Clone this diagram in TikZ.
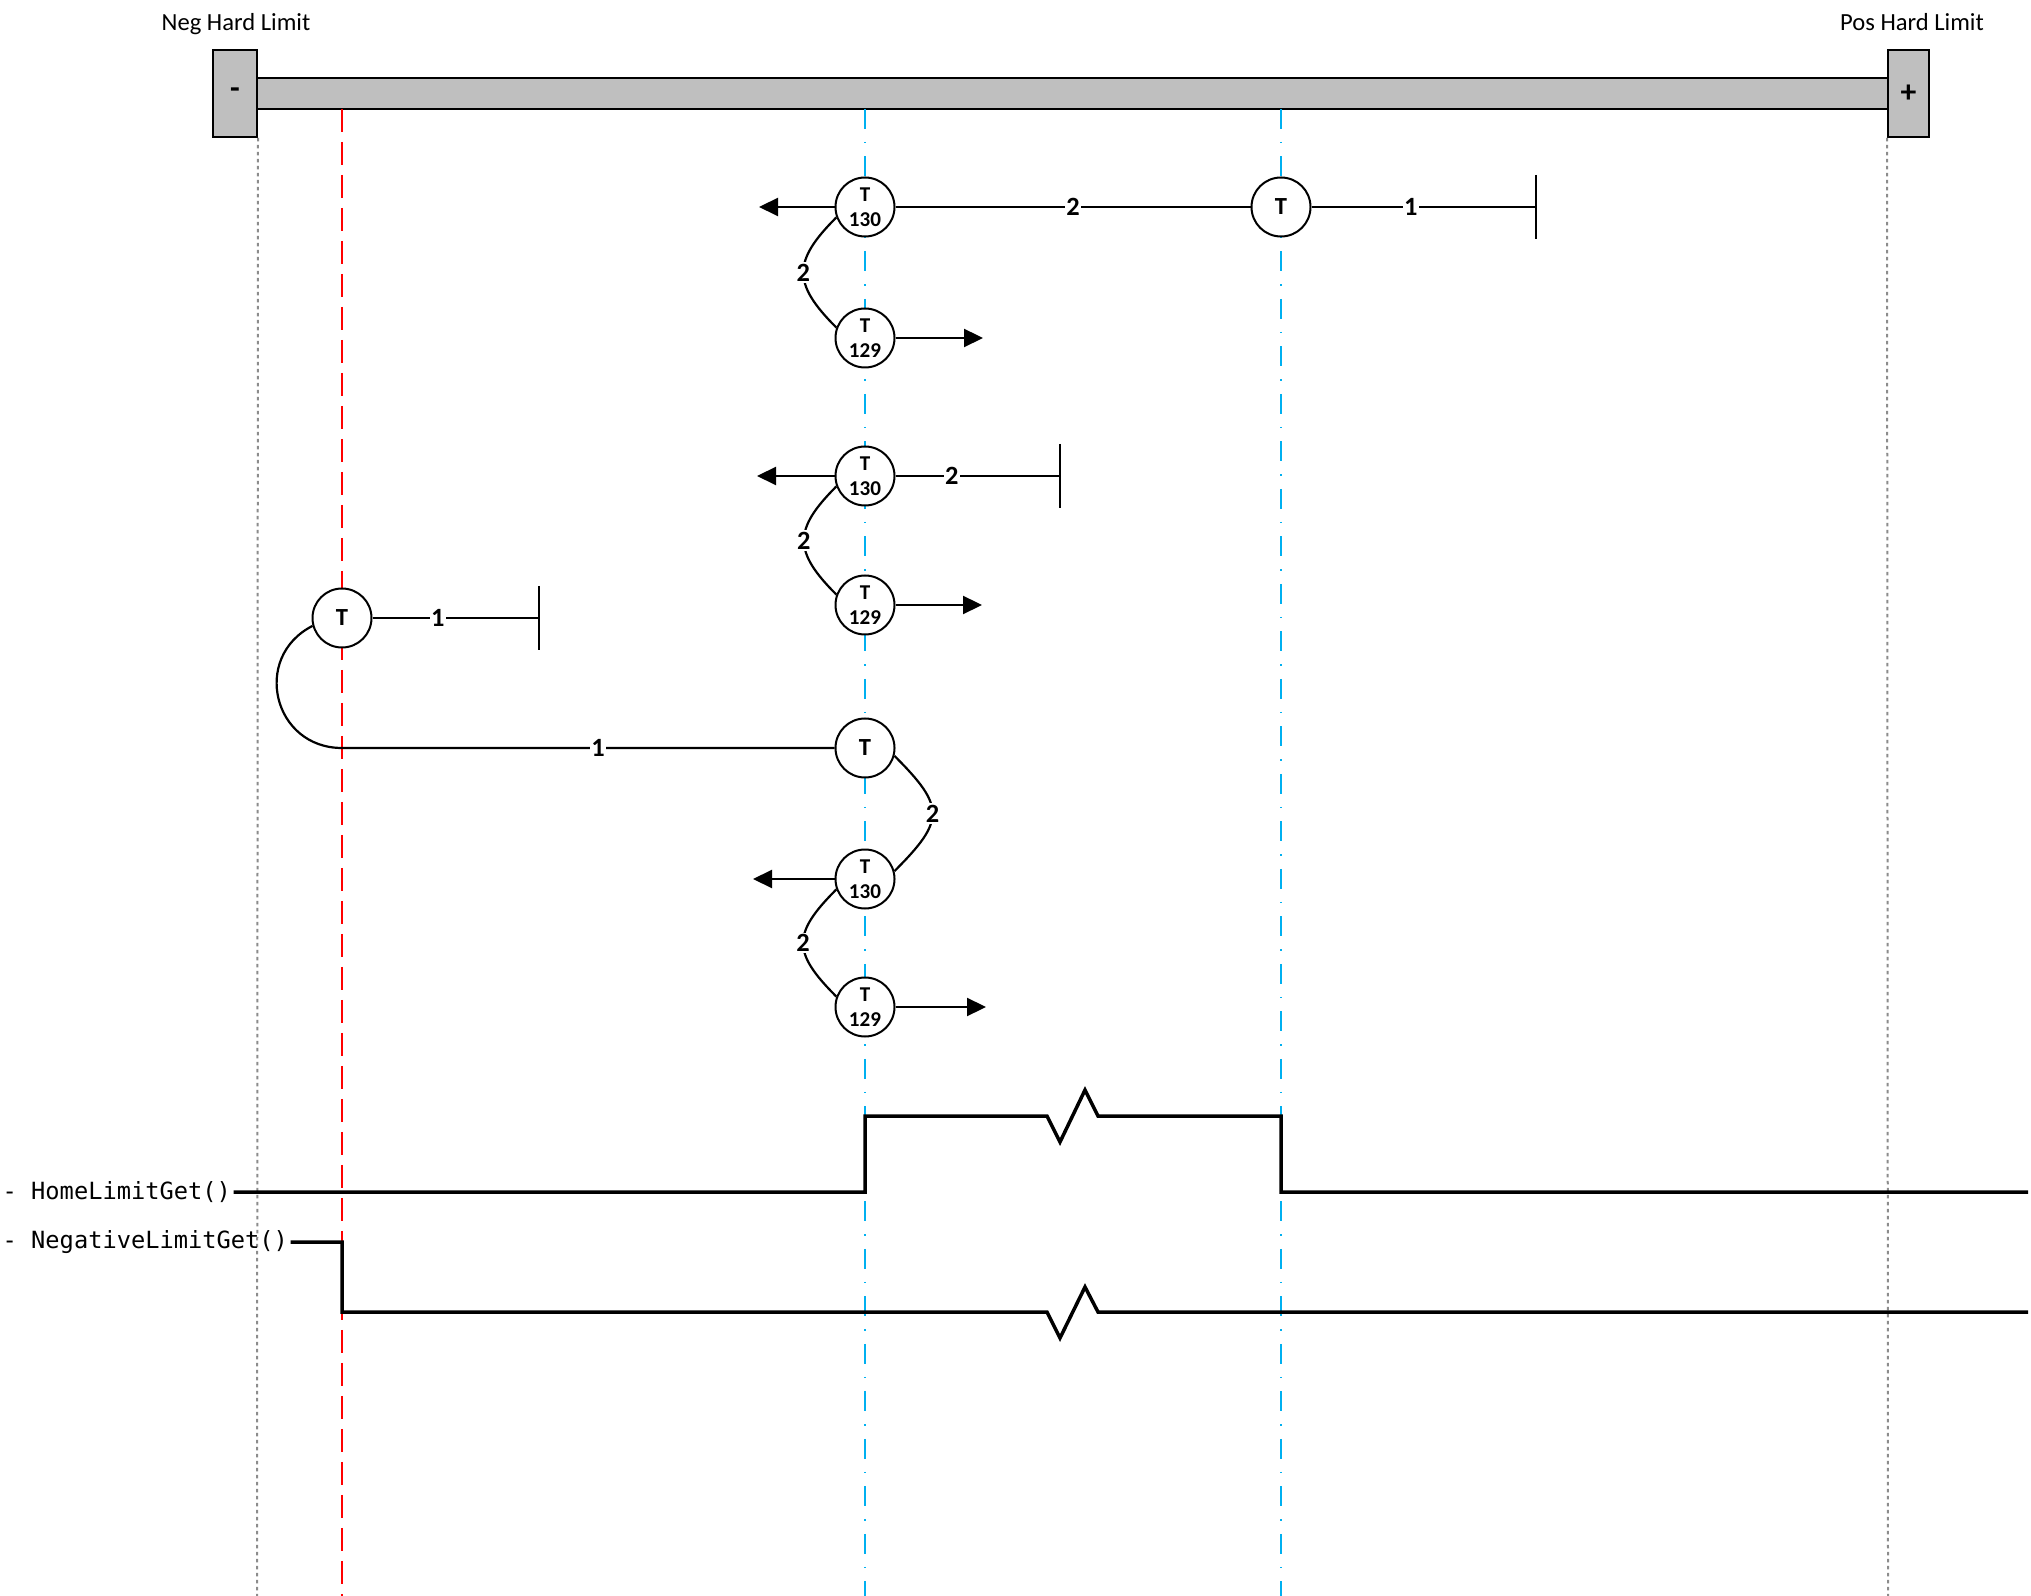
\documentclass[tikz,border=0pt]{standalone}
\usepackage{fontspec}
\setmainfont{Carlito}
\newfontfamily\codefont{DejaVu Sans Mono}
\usepackage{tikz}
\usetikzlibrary{arrows.meta,positioning,calc}
\definecolor{barfill}{RGB}{191,191,191}
\definecolor{cyanline}{RGB}{0,176,240}
\definecolor{dotgray}{RGB}{140,140,140}

\begin{document}
\begin{tikzpicture}[x=0.1mm,y=0.1mm,>={Triangle[length=1.9mm,width=1.8mm]},
 t/.style={draw,circle,fill=white,minimum size=5.9mm,inner sep=0pt,line width=0.2mm,align=center,font=\bfseries\fontsize{6}{7.1}\selectfont},
 t1/.style={t,font=\bfseries\fontsize{7}{8}\selectfont},
 lim/.style={draw,fill=barfill,line width=0.2mm,minimum height=8.7mm,inner sep=0pt,font=\bfseries\fontsize{9}{10}\selectfont},
 hard/.style={anchor=base,font=\fontsize{7}{8}\selectfont},
 e/.style={line width=0.22mm},
 stop/.style={e,-{Bar[width=6.4mm]}},
 lbl/.style={fill=white,inner sep=0.4pt,font=\bfseries\fontsize{7.5}{8}\selectfont},
 gguide/.style={dotgray,line width=0.2mm,dash pattern=on 0.35mm off 0.35mm},
 rguide/.style={red,line width=0.2mm,dash pattern=on 2.3mm off 1mm},
 bguide/.style={cyanline,line width=0.2mm,dash pattern=on 2mm off 1.3mm on 0.15mm off 1.3mm},
 sig/.style={line width=0.35mm},
 sigtxt/.style={anchor=west,inner sep=0.2mm,font=\codefont\fontsize{6.74}{8}\selectfont}]
\useasboundingbox (0,0) rectangle (2031,-1596);

\draw[lim] (257,-78) rectangle (1888,-109);
\node[lim,minimum width=4.4mm] (neg) at (235,-93.5) {-};
\node[lim,minimum width=4.1mm] (pos) at (1908.5,-93.5) {+};
\node[hard] (neglbl) at (236,-31) {Neg Hard Limit};
\node[hard] (poslbl) at (1912,-31) {Pos Hard Limit};

\draw[gguide] (neg.south east) -- (257,-1596);
\draw[gguide] (pos.south west) -- (1888,-1596);
\draw[rguide] (342,-109) -- (342,-1596);
\foreach \x in {865,1281}
  \draw[bguide] (\x,-109) -- (\x,-1596);

\node[t] (a130) at (865,-207) {T\\130};
\node[t] (a129) at (865,-338) {T\\129};
\node[t1] (at) at (1281,-207) {T};
\coordinate (aleft) at (759,-207);
\coordinate (aright) at (983,-338);
\coordinate (astop) at (1537,-207);
\draw[e,->] (a130) -- (aleft);
\draw[e,->] (a129) -- (aright);
\draw[e] (a130) -- node[lbl]{2} (at);
\draw[stop] (at) -- node[lbl,pos=0.44]{1} (astop);
\draw[e] (a130.200) to[out=225,in=135,looseness=1.45] node[lbl]{2} (a129.160);

\node[t] (b130) at (865,-476) {T\\130};
\node[t] (b129) at (865,-605) {T\\129};
\coordinate (bleft) at (757,-476);
\coordinate (bright) at (982,-605);
\coordinate (bstop) at (1061,-476);
\draw[e,->] (b130) -- (bleft);
\draw[e,->] (b129) -- (bright);
\draw[stop] (b130) -- node[lbl,pos=0.34]{2} (bstop);
\draw[e] (b130.200) to[out=225,in=135,looseness=1.45] node[lbl]{2} (b129.160);

\node[t1] (ct) at (342,-618) {T};
\node[t1] (dt) at (865,-748) {T};
\node[t] (e130) at (865,-879) {T\\130};
\node[t] (e129) at (865,-1007) {T\\129};
\coordinate (cstop) at (540,-618);
\coordinate (cret) at (342,-748);
\coordinate (eleft) at (753,-879);
\coordinate (eright) at (986,-1007);
\draw[stop] (ct) -- node[lbl,pos=0.39]{1} (cstop);
\draw[e] (ct.195) to[out=207,in=180,looseness=1.4] (cret) -- node[lbl,pos=0.52]{1} (dt);
\draw[e] (dt.-15) to[out=-45,in=45,looseness=1.6] node[lbl]{2} (e130.15);
\draw[e,->] (e130) -- (eleft);
\draw[e,->] (e129) -- (eright);
\draw[e] (e130.200) to[out=225,in=135,looseness=1.5] node[lbl]{2} (e129.160);

\node[sigtxt] (home) at (0,-1192) {- HomeLimitGet()};
\node[sigtxt] (neglim) at (0,-1242) {- NegativeLimitGet()};
\coordinate (homeend) at (2028,-1192);
\coordinate (negend) at (2028,-1312);
\draw[sig] (home.east) -- (865,-1192) |- (1047,-1116) -- ++(13,-26) -- ++(25,52) -- ++(13,-26) -| (1281,-1192) -- (homeend);
\draw[sig] (neglim.east) -| (342,-1312) -- (1047,-1312) -- ++(13,-26) -- ++(25,51) -- ++(13,-25) -- (negend);
\end{tikzpicture}
\end{document}
